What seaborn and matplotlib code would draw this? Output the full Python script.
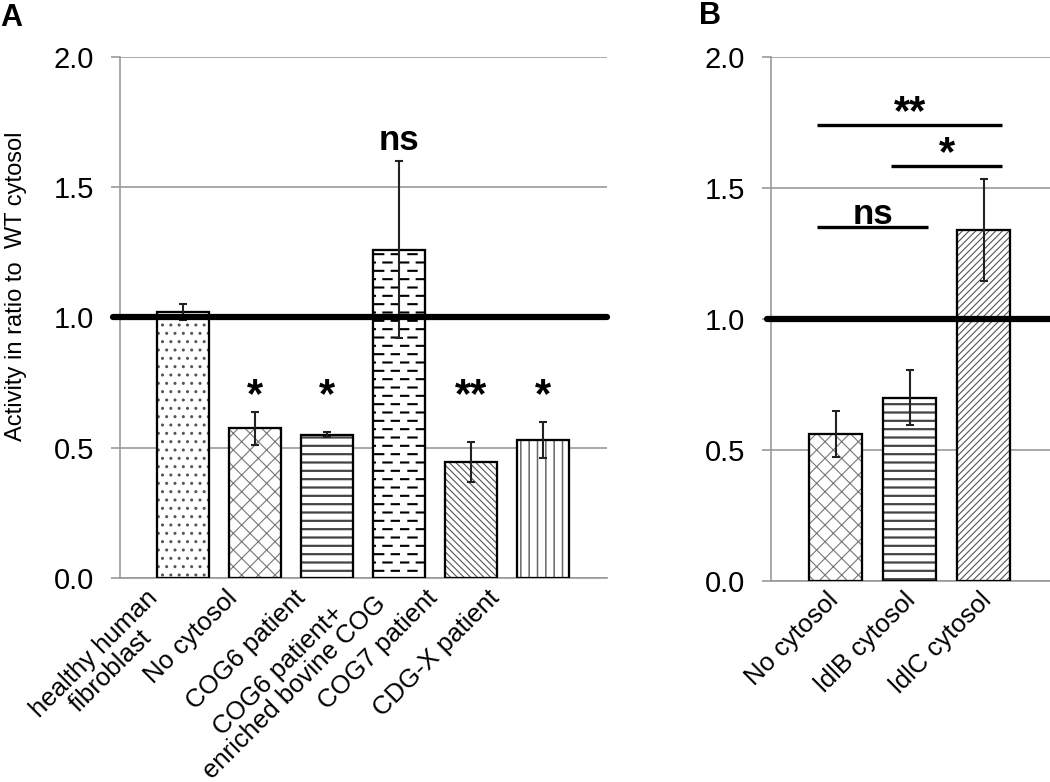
import warnings
import numpy as np
import pandas as pd
import matplotlib
matplotlib.use('Agg')
import matplotlib.pyplot as plt
import matplotlib.transforms as mtransforms
from matplotlib import hatch as mhatch
from matplotlib.path import Path
from matplotlib.patches import Rectangle
import seaborn as sns

warnings.filterwarnings('ignore')

# panel A data
labels_a = ['healthy human\nfibroblast', 'No cytosol', 'COG6 patient',
            'COG6 patient+\nenriched bovine COG', 'COG7 patient', 'CDG-X patient']
values_a = [1.02, 0.575, 0.55, 1.26, 0.445, 0.53]
errors_a = [0.03, 0.063, 0.01, 0.34, 0.078, 0.07]
signif_a = ['', '*', '*', 'ns', '**', '*']

# panel B data
labels_b = ['No cytosol', 'ldlB cytosol', 'ldlC cytosol']
values_b = [0.56, 0.70, 1.34]
errors_b = [0.088, 0.105, 0.195]
# brackets: (first bar, last bar, level, text)
brackets_b = [(0, 1, 1.35, 'ns'), (1, 2, 1.585, '*'), (0, 2, 1.74, '**')]

yticks = [0.0, 0.5, 1.0, 1.5, 2.0]

# hatch styles: (pattern, colour, linewidth)
hatch_a = [('..', '#555555', 1.0), ('xx', '#777777', 0.8), ('--', '#444444', 1.6),
           ('=', 'black', 1.5), ('\\' * 5, '#555555', 0.8), ('||', '#666666', 1.1)]
hatch_b = [('xx', '#777777', 0.8), ('--', '#444444', 1.6), ('/' * 5, '#555555', 0.8)]
# tick label offsets in px (dx, dy)
shift_a = [(-38, 3), (-30, 3), (-34, 3), (-42, 14), (-46, 3), (-56, 3)]
shift_b = [(-10, 4), (-6, 4), (-4, 4)]


class DashHatch(mhatch.HatchPatternBase):
    """staggered short horizontal dashes, triggered by '='"""
    def __init__(self, hatch, density):
        self.num_rows = 12 if '=' in hatch else 0
        self.num_cols = 6
        self.num_vertices = self.num_rows * self.num_cols * 2

    def set_vertices_and_codes(self, vertices, codes):
        period = 1.0 / self.num_cols
        k = 0
        for r in range(self.num_rows):
            y = (r + 0.5) / self.num_rows
            off = 0.0 if r % 2 == 0 else period / 2
            for c in range(self.num_cols):
                x0 = off + c * period
                vertices[k] = (x0, y)
                vertices[k + 1] = (x0 + period * 0.5, y)
                codes[k] = Path.MOVETO
                codes[k + 1] = Path.LINETO
                k += 2


mhatch._hatch_types.append(DashHatch)

sns.set_theme(style='white')
plt.rcParams['font.family'] = ['Liberation Sans', 'DejaVu Sans']
plt.rcParams['text.color'] = 'black'
plt.rcParams['xtick.labelcolor'] = 'black'
plt.rcParams['ytick.labelcolor'] = 'black'
plt.rcParams['axes.labelcolor'] = 'black'

fig = plt.figure(figsize=(10.5, 7.82), dpi=100)
ax_a = fig.add_axes([0.1143, 0.261, 0.464, 0.666])
ax_b = fig.add_axes([0.734, 0.257, 0.266, 0.670])


def draw_panel(ax, labels, values, errors, hatches, shifts, xlim):
    df = pd.DataFrame({'group': labels, 'value': values})
    sns.barplot(data=df, x='group', y='value', color='white', edgecolor='black',
                linewidth=1.5, width=0.72, ax=ax, zorder=3, saturation=1)
    for patch, (h, hc, hlw) in zip(list(ax.patches), hatches):
        plt.rcParams['hatch.linewidth'] = hlw
        patch.set_facecolor('white')
        patch.set_edgecolor(hc)
        patch.set_hatch(h)
        if hasattr(patch, 'set_hatch_linewidth'):
            patch.set_hatch_linewidth(hlw)
        outline = Rectangle(patch.get_xy(), patch.get_width(), patch.get_height(),
                            fill=False, edgecolor='black', linewidth=1.6, zorder=3.5)
        ax.add_patch(outline)
    ax.errorbar(np.arange(len(values)), values, yerr=errors, fmt='none',
                ecolor='#222222', elinewidth=1.5, capsize=2.8, capthick=1.5, zorder=4)
    ax.axhline(1.0, xmin=-0.015, xmax=1.0, color='black', lw=4.5, zorder=5, clip_on=False)
    ax.set_ylim(0, 2.0)
    ax.set_xlim(*xlim)
    ax.set_yticks(yticks)
    ax.set_yticklabels([f'{t:.1f}' for t in yticks], fontsize=21)
    ax.yaxis.grid(True, color='#999999', lw=1.2, zorder=0)
    ax.xaxis.grid(False)
    for s in ['top', 'right']:
        ax.spines[s].set_visible(False)
    for s in ['left', 'bottom']:
        ax.spines[s].set_color('#999999')
        ax.spines[s].set_linewidth(1.2)
    ax.tick_params(axis='y', left=True, length=6.5, color='#999999', width=1.2, pad=12)
    ax.tick_params(axis='x', bottom=False, pad=2)
    ax.set_xticks(np.arange(len(labels)))
    ax.set_xticklabels(labels, rotation=45, ha='right', rotation_mode='anchor',
                       fontsize=18.5, multialignment='center', linespacing=1.0)
    for lab, (dx, dy) in zip(ax.get_xticklabels(), shifts):
        lab.set_transform(lab.get_transform() +
                          mtransforms.ScaledTranslation(dx / 100, dy / 100, fig.dpi_scale_trans))
    ax.set_xlabel('')
    ax.set_ylabel('')


draw_panel(ax_a, labels_a, values_a, errors_a, hatch_a, shift_a, (-0.875, 5.89))
draw_panel(ax_b, labels_b, values_b, errors_b, hatch_b, shift_b, (-0.88, 2.9))

ax_a.set_ylabel('Activity in ratio to  WT cytosol', fontsize=17)
ax_a.yaxis.set_label_coords(-0.19, 0.56)

# significance marks, panel A
for i, s in enumerate(signif_a):
    if s == 'ns':
        ax_a.text(i, 1.68, s, ha='center', va='center', fontsize=25, fontweight='bold')
    elif s:
        ax_a.text(i, 0.70, s, ha='center', va='center', fontsize=30, fontweight='bold')

# brackets, panel B
for i0, i1, lvl, s in brackets_b:
    ax_b.plot([i0 - 0.25, i1 + 0.25], [lvl, lvl], color='black', lw=2.4,
              solid_capstyle='butt', zorder=6)
    if s == 'ns':
        ax_b.text((i0 + i1) / 2, lvl - 0.012, s, ha='center', va='bottom',
                  fontsize=25, fontweight='bold')
    else:
        ax_b.text((i0 + i1) / 2, lvl - 0.03, s, ha='center', va='bottom',
                  fontsize=30, fontweight='bold')

fig.text(0.0, 0.977, 'A', fontsize=22, fontweight='bold', va='center', ha='left')
fig.text(0.666, 0.979, 'B', fontsize=22, fontweight='bold', va='center', ha='left')

fig.savefig('out.png', dpi=100)
